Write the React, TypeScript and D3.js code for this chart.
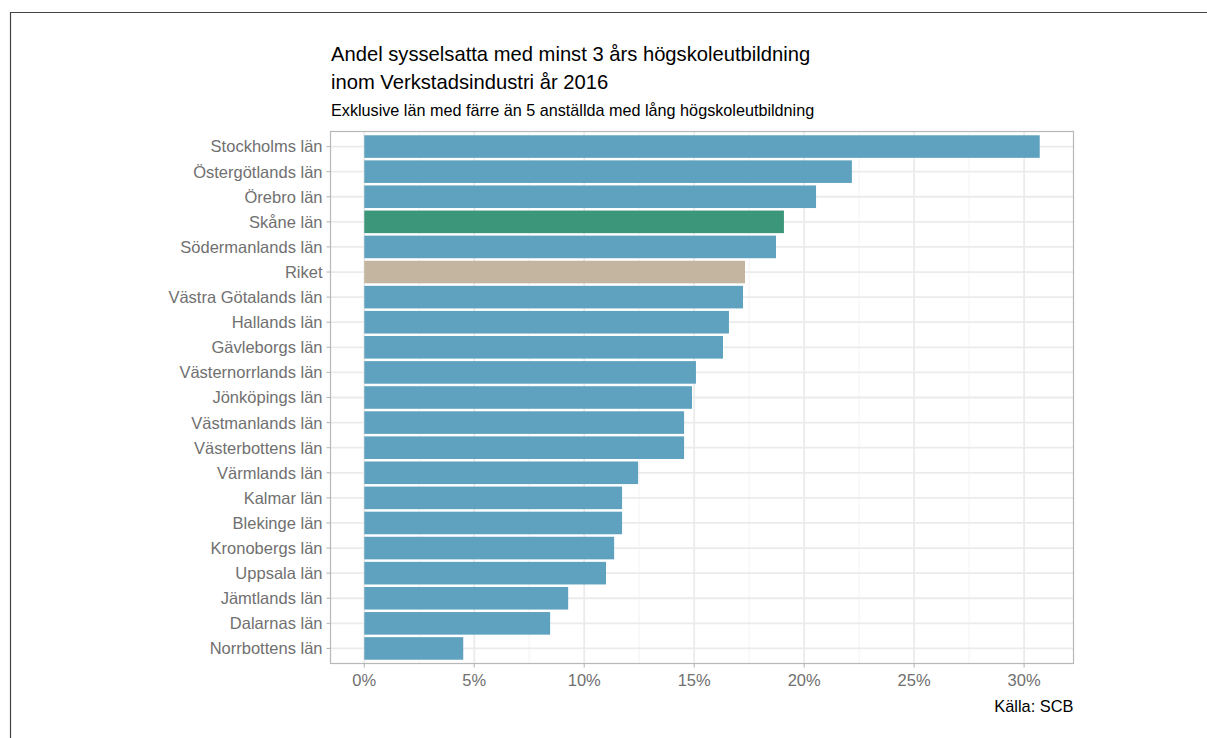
import React from "react";
import * as d3 from "d3";

const categories = [
  "Stockholms län", "Östergötlands län", "Örebro län", "Skåne län", "Södermanlands län",
  "Riket", "Västra Götalands län", "Hallands län", "Gävleborgs län", "Västernorrlands län",
  "Jönköpings län", "Västmanlands län", "Västerbottens län", "Värmlands län", "Kalmar län",
  "Blekinge län", "Kronobergs län", "Uppsala län", "Jämtlands län", "Dalarnas län", "Norrbottens län",
];
const values = [
  30.71, 22.17, 20.54, 19.08, 18.72,
  17.31, 17.22, 16.58, 16.31, 15.08,
  14.90, 14.54, 14.54, 12.45, 11.72,
  11.72, 11.36, 10.99, 9.27, 8.45, 4.50,
];
const xTicks = [0, 5, 10, 15, 20, 25, 30];
const xMinor = [2.5, 7.5, 12.5, 17.5, 22.5, 27.5, 32.5];
const titleLines = [
  "Andel sysselsatta med minst 3 års högskoleutbildning",
  "inom Verkstadsindustri år 2016",
];
const subtitle = "Exklusive län med färre än 5 anställda med lång högskoleutbildning";
const caption = "Källa: SCB";

const W = 1207, H = 738;
const panel = { left: 330.5, top: 131.5, right: 1073.5, bottom: 663.5 };
const FONT = "'Liberation Sans', Arial, Helvetica, sans-serif";

function colorFor(c: string) {
  if (c === "Skåne län") return "#3b967a";
  if (c === "Riket") return "#c4b5a0";
  return "#5fa2bf";
}

export default function App() {
  const maxV = d3.max(values) as number;
  const ex = maxV * 0.05;
  const x = d3.scaleLinear().domain([-ex, maxV + ex]).range([panel.left, panel.right]);
  const y = d3.scaleBand<string>().domain(categories).range([panel.top, panel.bottom])
    .paddingInner(0.1).paddingOuter(0.15);
  const textGrey = "#707070";
  const gridMajor = "#ebebeb";
  const gridMinor = "#f5f5f5";

  return (
    <svg width={W} height={H} style={{ position: "absolute", left: 0, top: 0, background: "#fff" }}
      fontFamily={FONT}>
      <path d={`M10.5,${H} V12.5 H${W}`} fill="none" stroke="#444" strokeWidth={1.2} />
      <text x={331} y={61} fontSize={20.2} fill="#000">{titleLines[0]}</text>
      <text x={331} y={88.5} fontSize={20.2} fill="#000">{titleLines[1]}</text>
      <text x={331} y={116} fontSize={16.2} fill="#000">{subtitle}</text>

      {/* grid */}
      {xMinor.filter(v => x(v) < panel.right).map(v => (
        <line key={"mi" + v} x1={x(v)} x2={x(v)} y1={panel.top} y2={panel.bottom} stroke={gridMinor} strokeWidth={1.2} />
      ))}
      {xTicks.map(v => (
        <line key={"ma" + v} x1={x(v)} x2={x(v)} y1={panel.top} y2={panel.bottom} stroke={gridMajor} strokeWidth={1.8} />
      ))}
      {categories.map(c => (
        <line key={"gy" + c} x1={panel.left} x2={panel.right} y1={(y(c) as number) + y.bandwidth() / 2}
          y2={(y(c) as number) + y.bandwidth() / 2} stroke={gridMajor} strokeWidth={1.8} />
      ))}

      {/* bars */}
      {categories.map((c, i) => (
        <rect key={"b" + c} x={x(0)} y={y(c)} width={x(values[i]) - x(0)} height={y.bandwidth()} fill={colorFor(c)} />
      ))}

      <rect x={panel.left} y={panel.top} width={panel.right - panel.left} height={panel.bottom - panel.top}
        fill="none" stroke="#b8b8b8" strokeWidth={1.2} />

      {/* y axis */}
      {categories.map(c => {
        const cy = (y(c) as number) + y.bandwidth() / 2;
        return (
          <g key={"yl" + c}>
            <line x1={panel.left - 4} x2={panel.left} y1={cy} y2={cy} stroke="#b8b8b8" strokeWidth={1.1} />
            <text x={panel.left - 8} y={cy} dy="0.36em" textAnchor="end" fontSize={16.5} fill={textGrey}>{c}</text>
          </g>
        );
      })}
      {/* x axis */}
      {xTicks.map(v => (
        <g key={"xl" + v}>
          <line x1={x(v)} x2={x(v)} y1={panel.bottom} y2={panel.bottom + 4} stroke="#b8b8b8" strokeWidth={1.1} />
          <text x={x(v)} y={panel.bottom + 22.5} textAnchor="middle" fontSize={16.5} fill={textGrey}>{v + "%"}</text>
        </g>
      ))}
      <text x={panel.right} y={712} textAnchor="end" fontSize={16.4} fill="#000">{caption}</text>
    </svg>
  );
}
